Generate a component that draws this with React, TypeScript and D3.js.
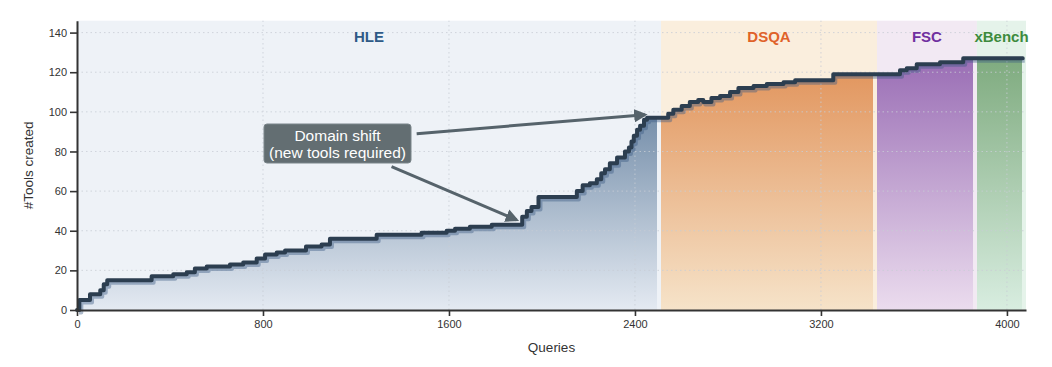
import React, { useEffect, useRef } from "react";
import * as d3 from "d3";

// cumulative tools created vs. queries processed
const queries = [0, 10, 56, 100, 115, 130, 321, 414, 472, 507, 558, 658, 715, 773, 809, 859, 895, 985, 1052, 1088, 1289, 1482, 1590, 1626, 1690, 1784, 1915, 1935, 1955, 1985, 2150, 2175, 2206, 2236, 2255, 2271, 2292, 2323, 2357, 2374, 2385, 2395, 2409, 2422, 2439, 2452, 2543, 2565, 2601, 2636, 2672, 2694, 2729, 2766, 2809, 2845, 2910, 2967, 3039, 3089, 3253, 3540, 3569, 3612, 3712, 3812, 4068];
const tools = [0, 5, 8, 10, 13, 15, 17, 18, 19, 21, 22, 23, 24, 26, 28, 29, 30, 32, 33, 36, 38, 39, 40, 41, 42, 43, 47, 50, 52, 57, 60, 63, 64, 66, 69, 71, 74, 77, 80, 82, 85, 88, 91, 93, 96, 97, 99, 101, 103, 105, 106, 105, 107, 108, 110, 112, 113, 114, 115, 116, 119, 121, 122, 124, 125, 127, 127];

const regionNames = ["HLE", "DSQA", "FSC", "xBench"];
const regionStart = [0, 2512, 3441, 3871];
const regionEnd = [2512, 3441, 3871, 4082];
const regionBg = ["#eef2f7", "#faeedd", "#f2e9f3", "#e5f3ea"];
const regionTop = ["#7790ab", "#e29760", "#9a6eb5", "#7fab7f"];
const regionBottom = ["#e4eaf2", "#f6e3c9", "#ebdcee", "#d8ede0"];
const regionText = ["#2e5a87", "#e0622a", "#7030a0", "#3d8b3d"];

const xTicks = [0, 800, 1600, 2400, 3200, 4000];
const yTicks = [0, 20, 40, 60, 80, 100, 120, 140];

// annotation arrows: [fromQuery, fromTools, toQuery, toTools]
const arrows = [
  [1461, 89, 2443, 98.5],
  [1353, 72.4, 1891, 45.5],
];

export default function App() {
  const ref = useRef<SVGSVGElement>(null);

  useEffect(() => {
    const width = 1052;
    const height = 367;
    const marginTop = 20.7;
    const marginRight = 26;
    const marginBottom = 57;
    const marginLeft = 77;
    const font = "'Liberation Sans', Arial, sans-serif";

    const svg = d3.select(ref.current);
    svg.selectAll("*").remove();

    const x = d3.scaleLinear().domain([0, 4082]).range([marginLeft, width - marginRight]);
    const y = d3.scaleLinear().domain([0, 146]).range([height - marginBottom, marginTop]);

    const data = queries.map((q, i) => ({ q, v: tools[i] }));
    const defs = svg.append("defs");

    // region backgrounds
    svg.append("g")
      .selectAll("rect")
      .data(regionNames)
      .join("rect")
      .attr("x", (d, i) => x(regionStart[i]))
      .attr("y", y(146))
      .attr("width", (d, i) => x(regionEnd[i]) - x(regionStart[i]))
      .attr("height", y(0) - y(146))
      .attr("fill", (d, i) => regionBg[i]);

    const area = d3.area<{ q: number; v: number }>()
      .x((d) => x(d.q))
      .y0(y(0))
      .y1((d) => y(d.v))
      .curve(d3.curveStepAfter);

    regionNames.forEach((name, i) => {
      const inRegion = data.filter((d) => d.q >= regionStart[i] && d.q <= regionEnd[i]);
      const top = d3.max(inRegion, (d) => d.v) ?? 0;
      const grad = defs.append("linearGradient")
        .attr("id", "grad" + i)
        .attr("gradientUnits", "userSpaceOnUse")
        .attr("x1", 0).attr("x2", 0)
        .attr("y1", y(top)).attr("y2", y(0));
      grad.append("stop").attr("offset", 0).attr("stop-color", regionTop[i]);
      grad.append("stop").attr("offset", 1).attr("stop-color", regionBottom[i]);

      defs.append("clipPath")
        .attr("id", "clip" + i)
        .append("rect")
        .attr("x", x(regionStart[i]))
        .attr("y", 0)
        .attr("width", x(regionEnd[i]) - x(regionStart[i]) - 4)
        .attr("height", height);

      svg.append("path")
        .datum(data)
        .attr("clip-path", `url(#clip${i})`)
        .attr("fill", `url(#grad${i})`)
        .attr("d", area);
    });

    // dotted grid
    const grid = svg.append("g")
      .attr("stroke", "#c9ced6")
      .attr("stroke-width", 1)
      .attr("stroke-dasharray", "1.5,3")
      .attr("opacity", 0.8);
    grid.selectAll("line.h")
      .data(yTicks.filter((t) => t > 0))
      .join("line")
      .attr("class", "h")
      .attr("x1", x(0)).attr("x2", x(4082))
      .attr("y1", (d) => y(d)).attr("y2", (d) => y(d));
    grid.selectAll("line.v")
      .data(xTicks.filter((t) => t > 0))
      .join("line")
      .attr("class", "v")
      .attr("x1", (d) => x(d)).attr("x2", (d) => x(d))
      .attr("y1", y(0)).attr("y2", y(146));

    const line = d3.line<{ q: number; v: number }>()
      .x((d) => x(d.q))
      .y((d) => y(d.v))
      .curve(d3.curveStepAfter);

    // shadow + main line
    svg.append("path")
      .datum(data)
      .attr("fill", "none")
      .attr("stroke", "rgba(60,90,130,0.42)")
      .attr("stroke-width", 4)
      .attr("stroke-linejoin", "round")
      .attr("transform", "translate(2,2.5)")
      .attr("d", line);
    svg.append("path")
      .datum(data)
      .attr("fill", "none")
      .attr("stroke", "#2c3e50")
      .attr("stroke-width", 4)
      .attr("stroke-linejoin", "round")
      .attr("stroke-linecap", "round")
      .attr("d", line);

    // region labels
    svg.append("g")
      .selectAll("text")
      .data(regionNames)
      .join("text")
      .attr("x", (d, i) => (x(regionStart[i]) + x(regionEnd[i])) / 2)
      .attr("y", 42)
      .attr("text-anchor", "middle")
      .attr("font-family", font)
      .attr("font-weight", "bold")
      .attr("font-size", 15)
      .attr("fill", (d, i) => regionText[i])
      .text((d) => d);

    // axes
    const xAxis = svg.append("g")
      .attr("transform", `translate(0,${y(0)})`)
      .call(d3.axisBottom(x).tickValues(xTicks).tickFormat(d3.format("d")).tickSize(6).tickPadding(4).tickSizeOuter(0));
    const yAxis = svg.append("g")
      .attr("transform", `translate(${x(0)},0)`)
      .call(d3.axisLeft(y).tickValues(yTicks).tickSize(7).tickPadding(3).tickSizeOuter(0));
    [xAxis, yAxis].forEach((g) => {
      g.select(".domain").attr("stroke", "#333").attr("stroke-width", 2);
      g.selectAll(".tick line").attr("stroke", "#333").attr("stroke-width", 1.6);
      g.selectAll(".tick text")
        .attr("fill", "#333")
        .attr("font-family", font)
        .attr("font-size", 11);
    });

    svg.append("text")
      .attr("x", (x(0) + x(4082)) / 2)
      .attr("y", 352)
      .attr("text-anchor", "middle")
      .attr("font-family", font)
      .attr("font-size", 13.5)
      .attr("fill", "#333")
      .text("Queries");
    svg.append("text")
      .attr("transform", `translate(33,${(y(0) + y(146)) / 2}) rotate(-90)`)
      .attr("text-anchor", "middle")
      .attr("font-family", font)
      .attr("font-size", 13.5)
      .attr("fill", "#333")
      .text("#Tools created");

    // annotation arrows
    defs.append("marker")
      .attr("id", "arrowhead")
      .attr("viewBox", "0 0 10 10")
      .attr("refX", 8)
      .attr("refY", 5)
      .attr("markerWidth", 4.5)
      .attr("markerHeight", 4.5)
      .attr("orient", "auto")
      .append("path")
      .attr("d", "M0,0 L10,5 L0,10 z")
      .attr("fill", "#56636b");
    svg.append("g")
      .selectAll("line")
      .data(arrows)
      .join("line")
      .attr("x1", (d) => x(d[0]))
      .attr("y1", (d) => y(d[1]))
      .attr("x2", (d) => x(d[2]))
      .attr("y2", (d) => y(d[3]))
      .attr("stroke", "#56636b")
      .attr("stroke-width", 3)
      .attr("marker-end", "url(#arrowhead)");

    const box = svg.append("g");
    box.append("rect")
      .attr("x", 264)
      .attr("y", 124)
      .attr("width", 147)
      .attr("height", 39)
      .attr("rx", 3)
      .attr("fill", "#636e72")
      .attr("stroke", "#7a858a")
      .attr("stroke-width", 1);
    box.append("text")
      .attr("x", 337.5)
      .attr("y", 140.5)
      .attr("text-anchor", "middle")
      .attr("font-family", font)
      .attr("font-size", 15.5)
      .attr("fill", "#ffffff")
      .text("Domain shift");
    box.append("text")
      .attr("x", 337.5)
      .attr("y", 157.5)
      .attr("text-anchor", "middle")
      .attr("font-family", font)
      .attr("font-size", 15.5)
      .attr("fill", "#ffffff")
      .text("(new tools required)");
  }, []);

  return (
    <svg
      ref={ref}
      width={1052}
      height={367}
      style={{ position: "absolute", left: 0, top: 0, background: "#fff" }}
    />
  );
}
